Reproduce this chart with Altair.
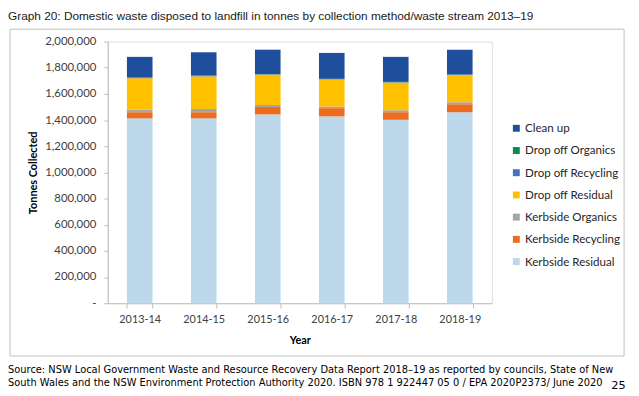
import altair as alt
import pandas as pd

years = ["2013-14", "2014-15", "2015-16", "2016-17", "2017-18", "2018-19"]
streams = ["Clean up", "Drop off Organics", "Drop off Recycling", "Drop off Residual",
           "Kerbside Organics", "Kerbside Recycling", "Kerbside Residual"]
colors = ["#1F4E9C", "#0E8A4C", "#4472C4", "#FFC000", "#A5A5A5", "#EE6C1E", "#BDD7EB"]

kerbside_residual = [1413000, 1413000, 1443000, 1428000, 1402000, 1460000]
kerbside_recycling = [47000, 47000, 57000, 63000, 58000, 61000]
kerbside_organics = [21000, 25000, 15000, 12000, 15000, 15000]
drop_off_residual = [239000, 249000, 232000, 208000, 211000, 208000]
drop_off_recycling = [3000, 4000, 3000, 2000, 3000, 3000]
drop_off_organics = [2000, 2000, 2000, 2000, 3000, 2000]
clean_up = [158000, 178000, 186000, 198000, 191000, 189000]

series = {
    "Kerbside Residual": kerbside_residual,
    "Kerbside Recycling": kerbside_recycling,
    "Kerbside Organics": kerbside_organics,
    "Drop off Residual": drop_off_residual,
    "Drop off Recycling": drop_off_recycling,
    "Drop off Organics": drop_off_organics,
    "Clean up": clean_up,
}

rows = []
for idx, (name, vals) in enumerate(series.items()):
    for y, v in zip(years, vals):
        rows.append({"Year": y, "Stream": name, "Tonnes": v, "order": idx})
df = pd.DataFrame(rows)

title_text = "Graph 20: Domestic waste disposed to landfill in tonnes by collection method/waste stream 2013\u201319"
source_1 = "Source: NSW Local Government Waste and Resource Recovery Data Report 2018\u201319 as reported by councils, State of New"
source_2 = "South Wales and the NSW Environment Protection Authority 2020. ISBN 978 1 922447 05 0 / EPA 2020P2373/ June 2020"
page_no = "25"

W, H = 389, 265
LEFT, TOP = 101, 31.5
TOTAL_W, TOTAL_H = 631, 388

bars = alt.Chart(df).mark_bar().encode(
    x=alt.X("Year:N", sort=years,
            scale=alt.Scale(paddingInner=0.6, paddingOuter=0.3),
            axis=alt.Axis(title="Year", labelAngle=0, tickBand="extent", tickSize=5,
                          labelPadding=6, titlePadding=10, domainColor="#BFBFBF",
                          tickColor="#BFBFBF", labelFont="Lato", labelFontSize=11,
                          labelColor="#404040", titleFont="Lato", titleFontSize=11,
                          titleFontWeight="bold", titleColor="#000000")),
    y=alt.Y("Tonnes:Q", stack="zero",
            scale=alt.Scale(domain=[0, 2000000], nice=False),
            axis=alt.Axis(title="Tonnes Collected",
                          values=list(range(0, 2000001, 200000)),
                          labelExpr="datum.value == 0 ? '-' : format(datum.value, ',')",
                          grid=False, tickSize=4, labelPadding=8, titlePadding=6,
                          domainColor="#BFBFBF", tickColor="#BFBFBF",
                          labelFont="Lato", labelFontSize=11.5, labelColor="#404040",
                          titleFont="Lato", titleFontSize=11, titleFontWeight="bold",
                          titleColor="#000000")),
    color=alt.Color("Stream:N", scale=alt.Scale(domain=streams, range=colors),
                    legend=alt.Legend(title=None, orient="none", legendX=408, legendY=82,
                                      symbolType="square", symbolSize=49,
                                      symbolStrokeWidth=0, labelFont="Lato",
                                      labelFontSize=11.7, labelColor="#262626",
                                      rowPadding=9.5, labelOffset=3, padding=0)),
    order=alt.Order("order:Q", sort="ascending"),
)

one = pd.DataFrame({"a": [0]})

box = alt.Chart(one).mark_rect(fill=None, stroke="#BFBFBF", strokeWidth=1).encode(
    x=alt.value(-99), x2=alt.value(523), y=alt.value(-12.5), y2=alt.value(318.5))

def txt(text, x, y, font, size, color="#000000", align="left"):
    return alt.Chart(one).mark_text(text=text, font=font, fontSize=size, color=color,
                                    align=align, baseline="middle").encode(
        x=alt.value(x), y=alt.value(y))

title = txt(title_text, -101, -26, "Liberation Sans", 12, "#1a1a1a")
src1 = txt(source_1, -101, 332.5, "DejaVu Sans", 10)
src2 = txt(source_2, -101, 345.5, "DejaVu Sans", 10)
pg = txt(page_no, 510, 348.5, "DejaVu Sans", 11.5)

chart = alt.layer(box, bars, title, src1, src2, pg).properties(
    width=W, height=H,
    autosize=alt.AutoSizeParams(type="none"),
    padding={"left": LEFT, "top": TOP, "right": TOTAL_W - LEFT - W,
             "bottom": TOTAL_H - TOP - H},
).configure_view(stroke=None).configure(background="white")

chart.save("out.html", embed_options={"renderer": "svg", "actions": False})
